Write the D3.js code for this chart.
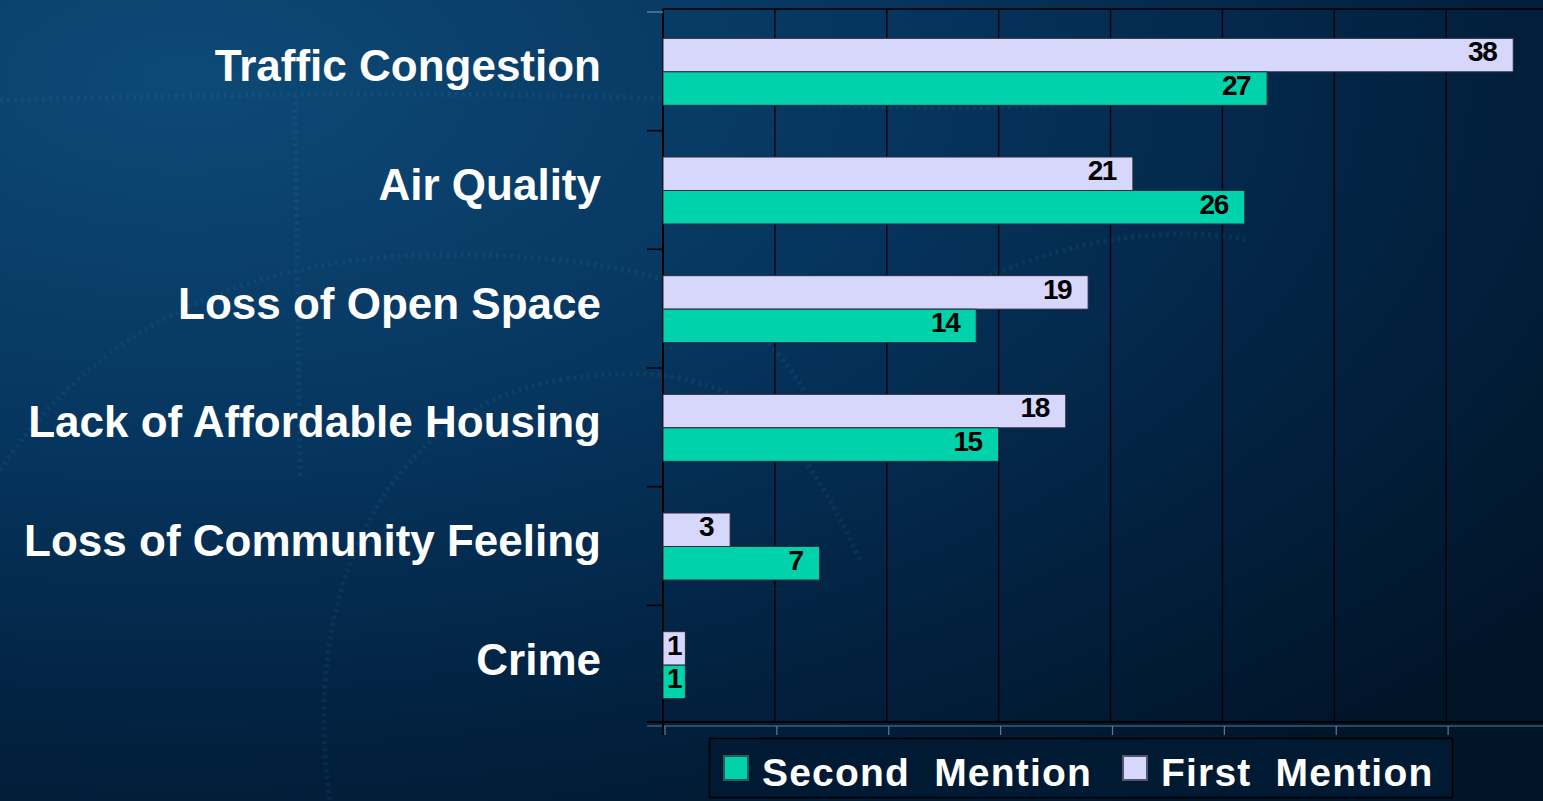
<!DOCTYPE html>
<html>
<head>
<meta charset="utf-8">
<script src="https://cdn.jsdelivr.net/npm/d3@7"></script>
<style>
  html, body { margin: 0; padding: 0; background: #02203d; }
  svg { display: block; font-family: "Liberation Sans", Arial, sans-serif; }
</style>
</head>
<body>
<div class="chart"></div>
<script>
// data
const categories = ['Traffic Congestion', 'Air Quality', 'Loss of Open Space',
  'Lack of Affordable Housing', 'Loss of Community Feeling', 'Crime'];
const firstMention = [38, 21, 19, 18, 3, 1];
const secondMention = [27, 26, 14, 15, 7, 1];
const xTicks = [0, 5, 10, 15, 20, 25, 30, 35, 40];
const seriesNames = ['First Mention', 'Second Mention'];
const legendOrder = ['Second Mention', 'First Mention'];

const colors = {
  'First Mention': '#d7d7fc',
  'Second Mention': '#00d2ac',
};

const width = 1543;
const height = 801;
const plot = { left: 663, top: 9, bottom: 722, right: 1558 };

const svg = d3.select('.chart')
  .append('svg')
  .attr('width', width)
  .attr('height', height);

// background gradient
const defs = svg.append('defs');
const bg = defs.append('radialGradient')
  .attr('id', 'bg')
  .attr('cx', '0.12').attr('cy', '0.1').attr('r', '1.1');
bg.append('stop').attr('offset', '0%').attr('stop-color', '#0d4a76');
bg.append('stop').attr('offset', '40%').attr('stop-color', '#063660');
bg.append('stop').attr('offset', '75%').attr('stop-color', '#02213f');
bg.append('stop').attr('offset', '100%').attr('stop-color', '#011529');

svg.append('rect')
  .attr('width', width)
  .attr('height', height)
  .attr('fill', 'url(#bg)');

// faint decorative texture
const deco = svg.append('g')
  .attr('fill', 'none')
  .attr('stroke', '#3f7fa6')
  .attr('stroke-width', 5)
  .attr('stroke-dasharray', '3 4')
  .attr('opacity', 0.13);
deco.append('path').attr('d', 'M0,100 C200,95 450,90 700,100 S1100,120 1300,60');
deco.append('path').attr('d', 'M295,95 L300,480');
deco.append('path').attr('d', 'M0,470 C100,320 260,250 470,255 S760,300 820,420');
deco.append('path').attr('d', 'M330,800 C300,600 380,410 560,380 S800,430 860,560');
deco.append('path').attr('d', 'M900,330 C1000,250 1150,220 1250,240');

const x = d3.scaleLinear()
  .domain([0, 40])
  .range([plot.left, plot.right]);

const y = d3.scaleBand()
  .domain(categories)
  .range([13, 725]);

// two bars per category, around the band centre
const sub = d3.scaleBand()
  .domain(seriesNames)
  .range([-34, 33]);

// gridlines
svg.append('g')
  .selectAll('line')
  .data(xTicks.slice(1))
  .enter()
  .append('line')
  .attr('x1', (d) => x(d))
  .attr('x2', (d) => x(d))
  .attr('y1', plot.top)
  .attr('y2', plot.bottom)
  .attr('stroke', '#000')
  .attr('stroke-opacity', 0.85)
  .attr('stroke-width', 1.5);

// top frame
svg.append('line')
  .attr('x1', plot.left).attr('x2', width)
  .attr('y1', plot.top).attr('y2', plot.top)
  .attr('stroke', '#000').attr('stroke-opacity', 0.8).attr('stroke-width', 2);

// bottom axis shadow line with ticks
svg.append('line')
  .attr('x1', 647).attr('x2', width)
  .attr('y1', plot.bottom + 4).attr('y2', plot.bottom + 4)
  .attr('stroke', '#5d7a98').attr('stroke-width', 1.2);
svg.append('g')
  .selectAll('line')
  .data(xTicks)
  .enter()
  .append('line')
  .attr('x1', (d) => x(d) + 2)
  .attr('x2', (d) => x(d) + 2)
  .attr('y1', plot.bottom + 4)
  .attr('y2', plot.bottom + 13)
  .attr('stroke', '#5d7a98').attr('stroke-width', 1.2);

svg.append('line')
  .attr('x1', 647).attr('x2', width)
  .attr('y1', plot.bottom).attr('y2', plot.bottom)
  .attr('stroke', '#000').attr('stroke-width', 2);

// left axis
svg.append('line')
  .attr('x1', plot.left).attr('x2', plot.left)
  .attr('y1', plot.top).attr('y2', plot.bottom + 13)
  .attr('stroke', '#000').attr('stroke-width', 2);
svg.append('g')
  .selectAll('line')
  .data(categories)
  .enter()
  .append('line')
  .attr('x1', plot.left - 16)
  .attr('x2', plot.left)
  .attr('y1', (d) => y(d) - 1)
  .attr('y2', (d) => y(d) - 1)
  .attr('stroke', (d, i) => (i === 0 ? '#5d7a98' : '#000'))
  .attr('stroke-width', 1.5);

// bars
const rows = categories.map((c, i) => ({
  cat: c,
  values: [
    { key: 'First Mention', value: firstMention[i] },
    { key: 'Second Mention', value: secondMention[i] },
  ],
}));

const groups = svg.selectAll('.row')
  .data(rows)
  .enter()
  .append('g')
  .attr('class', 'row')
  .attr('transform', (d) => `translate(0,${y(d.cat) + y.bandwidth() / 2})`);

groups.selectAll('rect')
  .data((d) => d.values)
  .enter()
  .append('rect')
  .attr('x', x(0))
  .attr('y', (d) => sub(d.key))
  .attr('width', (d) => x(d.value) - x(0))
  .attr('height', sub.bandwidth())
  .attr('fill', (d) => colors[d.key])
  .attr('stroke', '#2a2a3a')
  .attr('stroke-width', 1);

// value labels
groups.selectAll('text.val')
  .data((d) => d.values)
  .enter()
  .append('text')
  .attr('class', 'val')
  .attr('x', (d) => {
    const w = x(d.value) - x(0);
    const tw = String(d.value).length * 14;
    return x(d.value) - Math.min(17, Math.max(2, (w - tw) / 2));
  })
  .attr('y', (d) => sub(d.key) + 23)
  .attr('text-anchor', 'end')
  .attr('font-size', 28)
  .attr('font-weight', 'bold')
  .attr('letter-spacing', -1.5)
  .attr('fill', '#000')
  .text((d) => d.value);

// category labels
svg.append('g')
  .selectAll('text')
  .data(categories)
  .enter()
  .append('text')
  .attr('x', 601)
  .attr('y', (d) => y(d) + y.bandwidth() / 2 + 9)
  .attr('text-anchor', 'end')
  .attr('font-size', 44)
  .attr('font-weight', 'bold')
  .attr('fill', '#fff')
  .text((d) => d);

// legend
const legend = svg.append('g');
legend.append('rect')
  .attr('x', 709.5).attr('y', 738.5)
  .attr('width', 743).attr('height', 59)
  .attr('fill', '#011a33')
  .attr('stroke', '#000')
  .attr('stroke-width', 1.5);

const legendX = [723, 1122];
legendOrder.forEach((name, i) => {
  legend.append('rect')
    .attr('x', legendX[i] + 1).attr('y', 756)
    .attr('width', 24).attr('height', 24)
    .attr('fill', colors[name])
    .attr('stroke', i === 0 ? '#1f5f55' : '#555566')
    .attr('stroke-width', 2);
  legend.append('text')
    .attr('x', legendX[i] + 39)
    .attr('y', 786)
    .attr('font-size', 39)
    .attr('font-weight', 'bold')
    .attr('letter-spacing', 1.2)
    .attr('fill', '#fff')
    .style('white-space', 'pre')
    .text(name.replace(' ', '  '));
});
</script>
</body>
</html>
